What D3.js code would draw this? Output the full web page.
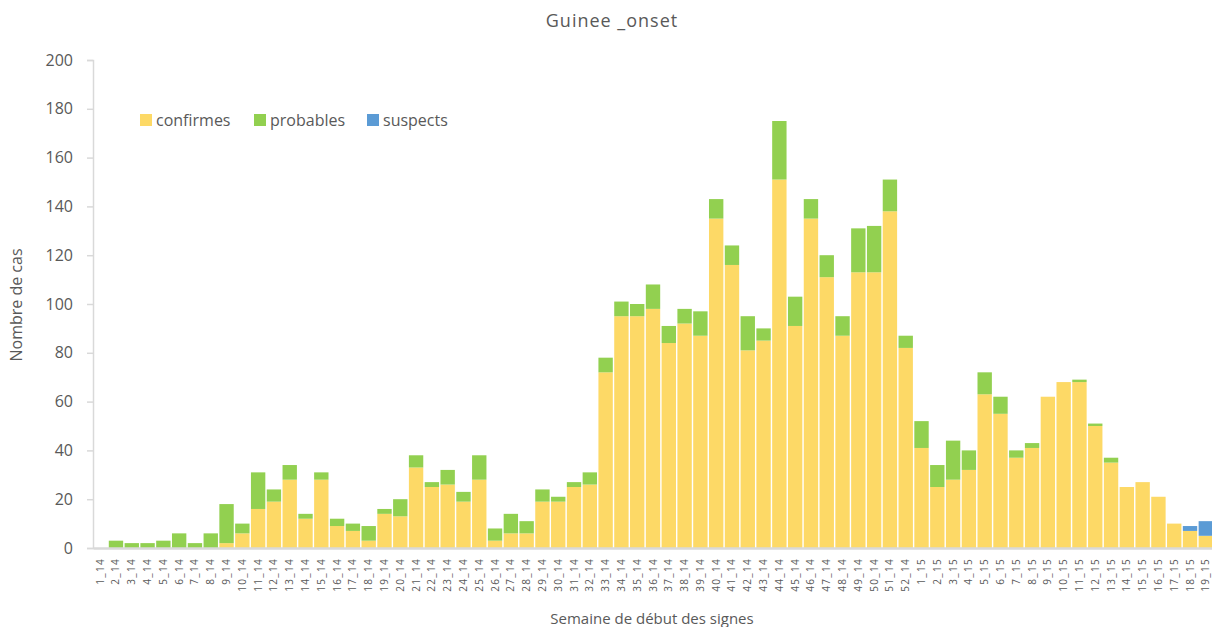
<!DOCTYPE html>
<html>
<head>
<meta charset="utf-8">
<title>Guinee _onset</title>
<script src="https://d3js.org/d3.v7.min.js"></script>
<style>
body { margin: 0; background: #fff; }
text { font-family: "Open Sans", "DejaVu Sans", sans-serif; fill: #595959; }
</style>
</head>
<body>
<svg width="1212" height="627"></svg>
<script>
// semaines 2014 puis 2015
var weeks14 = d3.range(1, 53).map(function(w) { return w + "_14"; });
var weeks15 = d3.range(1, 20).map(function(w) { return w + "_15"; });
var weeks = weeks14.concat(weeks15);

var confirmes = [0,0,0,0,0,0,0,0,2,6, 16,19,28,12,28,9,7,3,14,13, 33,25,26,19,28,3,6,6,19,19,
  25,26,72,95,95,98,84,92,87,135, 116,81,85,151,91,135,111,87,113,113, 138,82,
  41,25,28,32,63,55,37,41,62,68, 68,50,35,25,27,21,10,7,5];
var probables = [0,3,2,2,3,6,2,6,16,4, 15,5,6,2,3,3,3,6,2,7, 5,2,6,4,10,5,8,5,5,2,
  2,5,6,6,5,10,7,6,10,8, 8,14,5,24,12,8,9,8,18,19, 13,5,
  11,9,16,8,9,7,3,2,0,0, 1,1,2,0,0,0,0,0,0];
var suspects = [0,0,0,0,0,0,0,0,0,0, 0,0,0,0,0,0,0,0,0,0, 0,0,0,0,0,0,0,0,0,0,
  0,0,0,0,0,0,0,0,0,0, 0,0,0,0,0,0,0,0,0,0, 0,0,
  0,0,0,0,0,0,0,0,0,0, 0,0,0,0,0,0,0,2,6];
var seriesNames = ["confirmes", "probables", "suspects"];
var seriesColors = ["#fdd966", "#92d050", "#5b9bd5"];
var yTicks = [0, 20, 40, 60, 80, 100, 120, 140, 160, 180, 200];

var svg = d3.select("svg");

var x = d3.scaleBand()
  .domain(weeks)
  .range([93, 1213])
  .paddingInner(0.09);

var y = d3.scaleLinear()
  .domain([0, 200])
  .range([548, 60]);

var rows = weeks.map(function(w, i) {
  return { week: w, confirmes: confirmes[i], probables: probables[i], suspects: suspects[i] };
});
var stack = d3.stack().keys(seriesNames)(rows);

// axe y
var yAxis = svg.append("g")
  .attr("transform", "translate(93,0)")
  .call(d3.axisLeft(y).tickValues(yTicks).tickSize(6).tickPadding(14));
yAxis.select(".domain").attr("stroke", "#d9d9d9").attr("stroke-width", 1.5);
yAxis.selectAll(".tick line").attr("stroke", "#d9d9d9").attr("stroke-width", 1.5);
yAxis.selectAll("text").style("font-size", "16px").attr("fill", "#595959");

// barres
svg.append("g")
  .selectAll("g")
  .data(stack)
  .enter().append("g")
    .attr("fill", function(d, i) { return seriesColors[i]; })
  .selectAll("rect")
  .data(function(d) { return d; })
  .enter().append("rect")
    .attr("x", function(d) { return x(d.data.week); })
    .attr("width", x.bandwidth())
    .attr("y", function(d) { return y(d[1]); })
    .attr("height", function(d) { return y(d[0]) - y(d[1]); });

// axe x
var xAxis = svg.append("g")
  .attr("transform", "translate(0,548)")
  .call(d3.axisBottom(x).tickSize(0).tickPadding(0));
xAxis.select(".domain").attr("stroke", "#d9d9d9").attr("stroke-width", 2.5);
xAxis.selectAll("text")
  .attr("transform", "rotate(-90)")
  .attr("x", -10)
  .attr("y", 0)
  .attr("dy", "0.35em")
  .attr("text-anchor", "end")
  .style("font-size", "10px")
  .style("letter-spacing", "1.3px")
  .attr("fill", "#595959");

// titres
svg.append("text")
  .attr("x", 612).attr("y", 27)
  .attr("text-anchor", "middle")
  .style("font-size", "18px")
  .style("letter-spacing", "1px")
  .text("Guinee _onset");

svg.append("text")
  .attr("transform", "translate(22,305) rotate(-90)")
  .attr("text-anchor", "middle")
  .style("font-size", "16px")
  .text("Nombre de cas");

svg.append("text")
  .attr("x", 652).attr("y", 624)
  .attr("text-anchor", "middle")
  .style("font-size", "15px")
  .text("Semaine de début des signes");

// légende
var legendX = [140, 254, 367];
var legend = svg.append("g");
seriesNames.forEach(function(name, i) {
  legend.append("rect")
    .attr("x", legendX[i]).attr("y", 114)
    .attr("width", 12).attr("height", 12)
    .attr("fill", seriesColors[i]);
  legend.append("text")
    .attr("x", legendX[i] + 16).attr("y", 126)
    .style("font-size", "16px")
    .text(name);
});
</script>
</body>
</html>
